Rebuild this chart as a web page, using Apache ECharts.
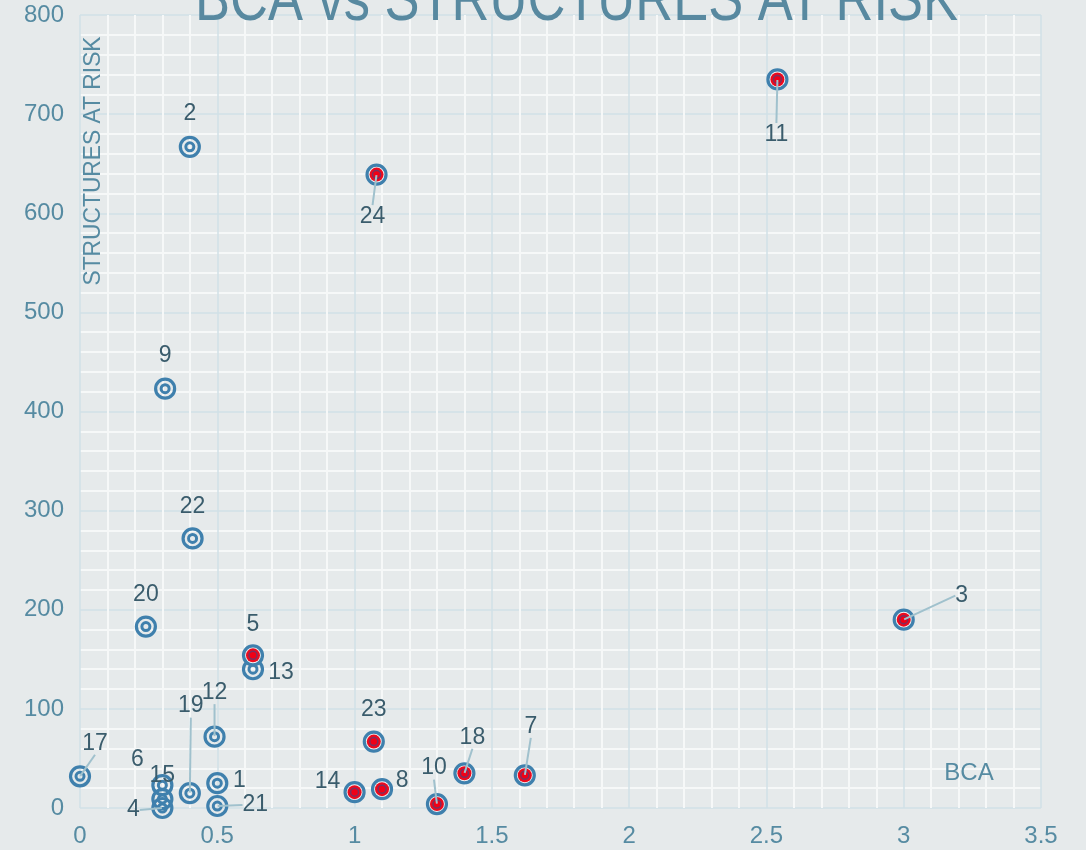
<!DOCTYPE html>
<html>
<head>
<meta charset="utf-8">
<title>BCA vs STRUCTURES AT RISK</title>
<script src="https://cdn.jsdelivr.net/npm/echarts@6/dist/echarts.min.js"></script>
<style>
  html, body { margin: 0; padding: 0; background: #e6eaeb; }
  #chart { width: 1086px; height: 850px; }
</style>
</head>
<body>
<div id="chart"></div>
<script>
// point data
const pointIds = [17, 15, 6, 4, 19, 12, 1, 21, 13, 20, 22, 9, 2, 5, 14, 8, 23, 10, 18, 7, 24, 11, 3];
const bcaValues = [0, 0.3, 0.3, 0.3, 0.4, 0.49, 0.5, 0.5, 0.63, 0.24, 0.41, 0.31, 0.4, 0.63, 1.0, 1.1, 1.07, 1.3, 1.4, 1.62, 1.08, 2.54, 3.0];
const structuresValues = [32, 23, 9, 0, 15, 72, 25, 2, 140, 183, 272, 423, 667, 154, 16, 19, 67, 4, 35, 33, 639, 735, 190];
// points drawn with the red centre
const flaggedIds = [5, 14, 8, 23, 10, 18, 7, 24, 11, 3];

const xTicks = { min: 0, max: 3.5, interval: 0.5 };
const yTicks = { min: 0, max: 800, interval: 100 };

// where each label sits relative to its point, and whether it gets a guide line
const labelPlace = {
  17: [15, -33, true], 15: [0, -10, false], 6: [-25, -39, false], 4: [-29, 2, true],
  19: [1, -87, true], 12: [0, -44, true], 1: [22, -3, false], 21: [38, -1, true],
  13: [28, 3, false], 20: [0, -32, false], 22: [0, -32, false], 9: [0, -33, false],
  2: [0, -33, false], 5: [0, -31, false], 14: [-27, -10, false], 8: [20, -9, false],
  23: [0, -32, false], 10: [-3, -36, true], 18: [8, -36, true], 7: [6, -49, true],
  24: [-4, 42, true], 11: [-1, 55, true], 3: [58, -24, true]
};

const fontName = '"Liberation Sans", Arial, sans-serif';
const labelColor = '#3a5c6c';
const axisColor = '#568ba2';
const ringBlue = '#3f80ad';

const allPoints = pointIds.map((id, i) => [bcaValues[i], structuresValues[i], id]);
const plainPoints = allPoints.filter(p => flaggedIds.indexOf(p[2]) < 0);
const redPoints = allPoints.filter(p => flaggedIds.indexOf(p[2]) >= 0);

const labelData = allPoints.map(p => ({
  value: p,
  labelLine: { show: labelPlace[p[2]][2] }
}));

let myChart = echarts.init(document.getElementById('chart'));

let axisCommon = {
  type: 'value',
  axisLine: { show: false },
  axisTick: { show: false },
  axisLabel: { color: axisColor, fontSize: 24, margin: 16, fontFamily: fontName },
  splitLine: { show: true, lineStyle: { color: '#d0e1e7', width: 1.5 } },
  minorTick: { show: false, splitNumber: 5 },
  minorSplitLine: { show: true, lineStyle: { color: '#f6f8f8', width: 2 } }
};

let option = {
  backgroundColor: '#e6eaeb',
  animation: false,
  grid: { left: 80, right: 45, top: 15, bottom: 42 },
  xAxis: Object.assign({}, axisCommon, {
    min: xTicks.min,
    max: xTicks.max,
    interval: xTicks.interval
  }),
  yAxis: Object.assign({}, axisCommon, {
    min: yTicks.min,
    max: yTicks.max,
    interval: yTicks.interval
  }),
  graphic: [
    {
      // title, squeezed sideways like the original
      type: 'text',
      x: 195,
      y: -30,
      scaleX: 0.82,
      z: 10,
      style: {
        text: 'BCA vs STRUCTURES AT RISK',
        fill: '#5889a0',
        font: '64px ' + fontName,
        textAlign: 'left',
        textVerticalAlign: 'top'
      }
    },
    {
      type: 'text',
      x: 93,
      y: 161,
      rotation: Math.PI / 2,
      scaleX: 0.95,
      z: 10,
      style: {
        text: 'STRUCTURES AT RISK',
        fill: axisColor,
        font: '24px ' + fontName,
        textAlign: 'center',
        textVerticalAlign: 'middle'
      }
    },
    {
      type: 'text',
      x: 969,
      y: 773,
      z: 10,
      style: {
        text: 'BCA',
        fill: axisColor,
        font: '24px ' + fontName,
        textAlign: 'center',
        textVerticalAlign: 'middle'
      }
    }
  ],
  series: [
    // hollow double rings
    {
      type: 'scatter',
      data: plainPoints,
      symbolSize: 19,
      silent: true,
      itemStyle: { color: 'rgba(0,0,0,0)', borderColor: ringBlue, borderWidth: 3.2, opacity: 1 },
      z: 2
    },
    {
      type: 'scatter',
      data: plainPoints,
      symbolSize: 8,
      silent: true,
      itemStyle: { color: 'rgba(0,0,0,0)', borderColor: ringBlue, borderWidth: 3, opacity: 1 },
      z: 2
    },
    // red centred points
    {
      type: 'scatter',
      data: redPoints,
      symbolSize: 19,
      silent: true,
      itemStyle: { color: '#f3f3f3', borderColor: ringBlue, borderWidth: 3.2, opacity: 1 },
      z: 3
    },
    {
      type: 'scatter',
      data: redPoints,
      symbolSize: 14,
      silent: true,
      itemStyle: { color: '#ec0a1e', opacity: 1 },
      z: 3
    },
    {
      type: 'scatter',
      data: redPoints,
      symbolSize: 8,
      silent: true,
      itemStyle: { color: '#f00016', borderColor: '#7a3060', borderWidth: 1.5, opacity: 1 },
      z: 3
    },
    // labels with guide lines
    {
      type: 'scatter',
      data: labelData,
      symbolSize: 1,
      silent: true,
      itemStyle: { color: 'rgba(0,0,0,0)', opacity: 1 },
      z: 4,
      label: {
        show: true,
        position: 'inside',
        formatter: p => String(p.value[2]),
        color: labelColor,
        textBorderWidth: 0,
        opacity: 1,
        fontSize: 23,
        fontFamily: fontName
      },
      labelLine: {
        show: true,
        lineStyle: { color: '#a0c1cd', width: 2, opacity: 1 }
      },
      labelLayout: function (params) {
        const id = pointIds[params.dataIndex];
        const place = labelPlace[id];
        return { dx: place[0], dy: place[1] };
      }
    }
  ]
};

myChart.setOption(option);
</script>
</body>
</html>
